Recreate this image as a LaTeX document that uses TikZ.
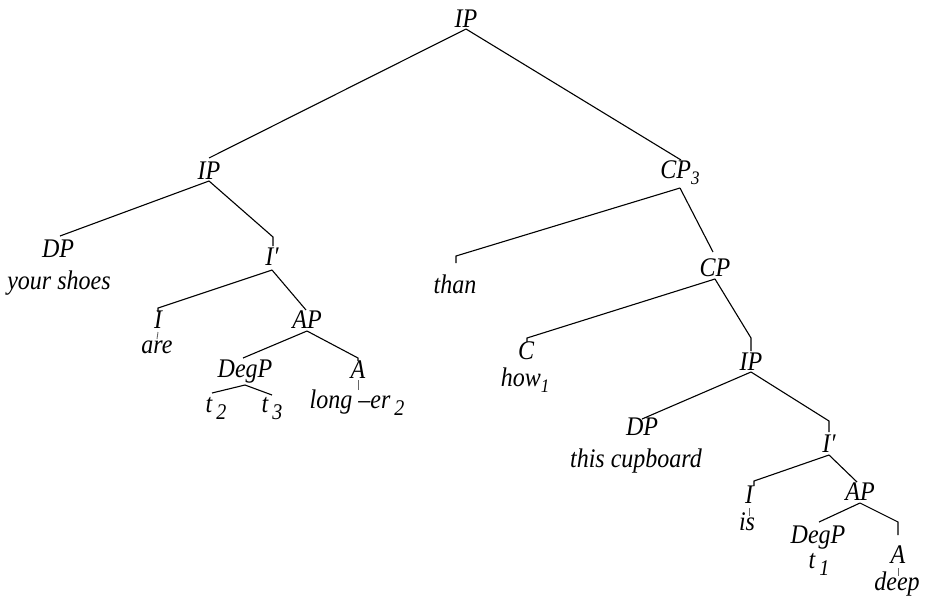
\documentclass[tikz,border=0pt]{standalone}
\usepackage{fontspec}
\usepackage{graphicx}
\setmainfont{Liberation Serif}
\newcommand\sbs[1]{\raisebox{-7pt}{\fontsize{20}{20}\selectfont\itshape #1}}
\newcommand\sbsm[1]{\raisebox{-6pt}{\fontsize{17}{17}\selectfont\itshape #1}}
\newcommand\tx[1]{\scalebox{1}[1.12]{#1}}
% [elbow xshift]{parent}{child}{start drop}{elbow height}{stub end height}
\newcommand\tbranch[6][0]{\draw[edge] ([yshift=-#4pt]#2.base) -- ([xshift=#1pt,yshift=#5pt]#3.base) -- ([xshift=#1pt,yshift=#6pt]#3.base);}
\begin{document}
\begin{tikzpicture}[x=1pt,y=-1pt,
  lab/.style={anchor=base,inner sep=0pt,font=\fontsize{24}{28}\selectfont\itshape},
  edge/.style={line width=1.1pt,line join=miter},
  stub/.style={line width=0.9pt,black!60}]
\useasboundingbox (0,0) rectangle (925,600);
% nodes
\node[lab] (ip0) at (466,27) {\tx{IP}};
\node[lab] (ip1) at (209,179) {\tx{IP}};
\node[lab] (dp1) at (58,257) {\tx{DP}};
\node[lab] (ys) at (59,289) {\tx{your shoes}};
\node[lab] (ib1) at (272,265) {\tx{I′}};
\node[lab] (i1) at (158,328) {\tx{I}};
\node[lab] (are) at (157,353) {\tx{are}};
\node[lab] (ap1) at (307,328) {\tx{AP}};
\node[lab] (degp1) at (245,377) {\tx{DegP}};
\node[lab] (t2) at (216,412) {\tx{t\,\sbs{2}}};
\node[lab] (t3) at (272,412) {\tx{t\,\sbs{3}}};
\node[lab] (a1) at (358,378) {\tx{A}};
\node[lab] (long) at (357,408) {\tx{long –er\,\sbs{2}}};
\node[lab] (cp3) at (680,178) {\tx{CP\sbsm{3}}};
\node[lab] (than) at (455,293) {\tx{than}};
\node[lab] (cp) at (715,276) {\tx{CP}};
\node[lab] (c) at (526,359) {\tx{C}};
\node[lab] (how) at (525,386) {\tx{how\sbsm{1}}};
\node[lab] (ip3) at (751,370) {\tx{IP}};
\node[lab] (dp2) at (642,435) {\tx{DP}};
\node[lab] (tc) at (636,467) {\tx{this cupboard}};
\node[lab] (ib2) at (829,452) {\tx{I′}};
\node[lab] (i2) at (749,503) {\tx{I}};
\node[lab] (is) at (747,530) {\tx{is}};
\node[lab] (ap2) at (860,500) {\tx{AP}};
\node[lab] (degp2) at (818,543) {\tx{DegP}};
\node[lab] (t1) at (819,568) {\tx{t\,\sbs{1}}};
\node[lab] (a2) at (898,563) {\tx{A}};
\node[lab] (deep) at (897,590) {\tx{deep}};
% branches
\tbranch{ip0}{ip1}{2}{21}{21}
\tbranch[1]{ip0}{cp3}{2}{18}{18}
\tbranch[2]{ip1}{dp1}{2}{21}{21}
\tbranch[1]{ip1}{ib1}{2}{28}{19}
\tbranch{ib1}{i1}{5}{20}{16}
\tbranch[-1]{ib1}{ap1}{5}{18}{18}
\tbranch[-2]{ap1}{degp1}{3}{19}{19}
\tbranch{ap1}{a1}{3}{20}{17}
\tbranch[-4]{degp1}{t2}{8}{19}{19}
\tbranch{degp1}{t3}{8}{17}{17}
\tbranch[1]{cp3}{than}{10}{37}{30}
\tbranch[-2]{cp3}{cp}{10}{24}{24}
\tbranch[1]{cp}{c}{3}{21}{17}
\tbranch{cp}{ip3}{3}{32}{19}
\tbranch{ip3}{dp2}{2}{16}{16}
\tbranch{ip3}{ib2}{2}{31}{20}
\tbranch[5]{ib2}{i2}{3}{22}{17}
\tbranch[-3]{ib2}{ap2}{3}{18}{18}
\tbranch[1]{ap2}{degp2}{3}{21}{21}
\tbranch{ap2}{a2}{3}{41}{28}
% terminal stubs
\draw[stub] ([yshift=-4pt]i1.base) -- ([yshift=14pt]are.base);
\draw[stub] ([yshift=-2pt]a1.base) -- ([xshift=1pt,yshift=18pt]long.base);
\draw[stub] ([yshift=-5pt]i2.base) -- ([xshift=2pt,yshift=14pt]is.base);
\draw[stub] ([yshift=-5pt]a2.base) -- ([xshift=1pt,yshift=14pt]deep.base);
\end{tikzpicture}
\end{document}
